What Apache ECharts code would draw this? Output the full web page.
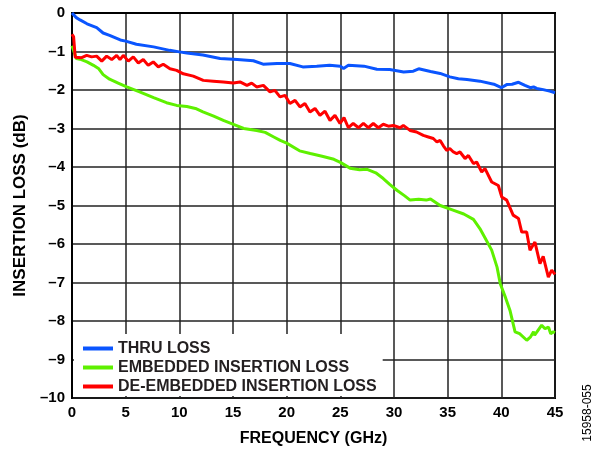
<!DOCTYPE html>
<html>
<head>
<meta charset="utf-8">
<script src="https://cdn.jsdelivr.net/npm/echarts@6/dist/echarts.min.js"></script>
<style>
html,body{margin:0;padding:0;background:#fff;}
#chart{width:592px;height:453px;}
</style>
</head>
<body>
<div id="chart"></div>
<script>
// ---- Data ----
var seriesNames = ['THRU LOSS', 'EMBEDDED INSERTION LOSS', 'DE-EMBEDDED INSERTION LOSS'];

var thruX = [0, 0.4, 0.75, 1.4, 2.3, 2.9, 3.5, 4.5, 5.0, 6.0, 7.6, 9.1, 10.0, 10.7, 12.2, 13.8, 15.4, 16.9, 17.8, 19.1, 20.3, 21.5, 22.8, 24.0, 25.0, 25.3, 25.75, 27.2, 28.4, 29.6, 30.9, 31.8, 32.3, 33.4, 34.3, 35.2, 36.0, 36.8, 38.0, 39.3, 40.0, 40.5, 41.0, 41.6, 42.2, 42.7, 43.0, 43.3, 43.9, 44.5, 45];
var thruY = [0, -0.12, -0.18, -0.28, -0.38, -0.52, -0.58, -0.70, -0.73, -0.81, -0.88, -0.97, -1.01, -1.04, -1.09, -1.18, -1.21, -1.24, -1.33, -1.31, -1.31, -1.40, -1.38, -1.36, -1.38, -1.44, -1.36, -1.38, -1.46, -1.47, -1.53, -1.51, -1.45, -1.52, -1.57, -1.66, -1.71, -1.73, -1.77, -1.85, -1.94, -1.86, -1.85, -1.80, -1.88, -1.94, -1.92, -1.96, -1.99, -2.03, -2.07];

var embX = [0, 0.4, 0.75, 1.4, 2.0, 2.5, 2.9, 3.5, 4.3, 5.1, 6.3, 7.6, 8.8, 9.75, 10.7, 11.5, 12.2, 13.2, 14.1, 15.1, 16.0, 17.2, 18.0, 18.8, 19.4, 20.0, 21.2, 22.2, 23.3, 24.4, 25.0, 25.9, 26.8, 27.5, 28.3, 29.0, 29.6, 30.3, 31.0, 31.5, 32.3, 33.0, 33.4, 34.3, 35.5, 36.5, 37.4, 38.0, 38.5, 39.1, 39.6, 39.9, 40.4, 40.8, 41.28, 41.7, 42.37, 42.7, 43.0, 43.1, 43.4, 43.76, 44.07, 44.4, 44.6, 44.85, 45];
var embY = [-0.85, -1.18, -1.20, -1.27, -1.36, -1.45, -1.60, -1.72, -1.82, -1.92, -2.05, -2.20, -2.33, -2.40, -2.43, -2.48, -2.57, -2.68, -2.79, -2.90, -3.00, -3.05, -3.10, -3.22, -3.31, -3.38, -3.58, -3.65, -3.72, -3.80, -3.88, -4.03, -4.07, -4.06, -4.15, -4.30, -4.45, -4.61, -4.75, -4.86, -4.84, -4.86, -4.83, -5.00, -5.12, -5.22, -5.36, -5.60, -5.85, -6.16, -6.60, -7.03, -7.40, -7.72, -8.28, -8.33, -8.50, -8.42, -8.28, -8.37, -8.25, -8.11, -8.20, -8.16, -8.33, -8.28, -8.30];

var deembX = [0, 0.15, 0.3, 0.43, 0.9, 1.37, 1.83, 2.3, 2.77, 3.23, 3.7, 4.16, 4.47, 4.78, 5.25, 5.71, 6.18, 6.64, 7.1, 7.57, 8.04, 8.5, 9.13, 9.75, 10.37, 11.3, 12.23, 13.17, 14.1, 15.03, 15.65, 16.3, 16.74, 17.2, 17.83, 18.45, 18.9, 19.38, 19.85, 20.3, 20.78, 21.24, 21.7, 22.17, 22.64, 23.1, 23.57, 24.04, 24.5, 24.97, 25.34, 25.75, 26.2, 26.7, 27.15, 27.6, 28.07, 28.54, 29.0, 29.47, 29.94, 30.56, 30.87, 31.49, 32.1, 32.73, 33.2, 33.66, 34.0, 34.3, 34.6, 34.91, 35.2, 35.53, 35.84, 36.15, 36.62, 36.93, 37.4, 37.7, 38.17, 38.48, 39.1, 39.72, 40.04, 40.5, 41.1, 41.6, 41.9, 42.36, 42.67, 43.13, 43.6, 43.9, 44.38, 44.69, 45];
var deembY = [-0.55, -0.62, -1.15, -1.14, -1.16, -1.10, -1.14, -1.12, -1.25, -1.12, -1.21, -1.10, -1.21, -1.10, -1.25, -1.14, -1.30, -1.21, -1.36, -1.27, -1.40, -1.33, -1.45, -1.49, -1.58, -1.64, -1.75, -1.77, -1.79, -1.82, -1.79, -1.88, -1.82, -1.92, -1.88, -2.05, -2.01, -2.18, -2.14, -2.35, -2.27, -2.44, -2.35, -2.57, -2.48, -2.66, -2.55, -2.79, -2.66, -2.87, -2.72, -2.98, -2.87, -2.98, -2.87, -2.98, -2.87, -2.98, -2.89, -2.94, -2.92, -2.98, -2.92, -3.05, -3.09, -3.18, -3.22, -3.26, -3.35, -3.31, -3.45, -3.57, -3.52, -3.61, -3.65, -3.61, -3.78, -3.70, -3.91, -3.87, -4.13, -4.04, -4.39, -4.48, -4.78, -4.86, -5.25, -5.34, -5.69, -5.69, -6.16, -5.95, -6.51, -6.32, -6.86, -6.68, -6.79];

var xTicks = [0, 5, 10, 15, 20, 25, 30, 35, 40, 45];
var yTicks = [0, -1, -2, -3, -4, -5, -6, -7, -8, -9, -10];
var xTitle = 'FREQUENCY (GHz)';
var yTitle = 'INSERTION LOSS (dB)';
var figId = '15958-055';
var colors = ['#0a55ff', '#5ef000', '#ff0000'];

function pairs(xs, ys) { return xs.map(function (x, i) { return [x, ys[i]]; }); }
var FONT = '"Liberation Sans", Arial, Helvetica, sans-serif';

var chart = echarts.init(document.getElementById('chart'), null, { renderer: 'canvas' });
var lineData = [pairs(thruX, thruY), pairs(embX, embY), pairs(deembX, deembY)];

chart.setOption({
  animation: false,
  backgroundColor: '#fff',
  grid: { left: 72, top: 13, width: 483, height: 385, show: true, borderColor: '#000', borderWidth: 2, backgroundColor: 'transparent' },
  xAxis: {
    type: 'value', min: xTicks[0], max: xTicks[xTicks.length - 1], interval: 5,
    name: xTitle, nameLocation: 'middle', nameGap: 33,
    nameTextStyle: { fontFamily: FONT, fontWeight: 'bold', fontSize: 16, color: '#000' },
    axisLine: { show: true, lineStyle: { color: '#000', width: 2 } },
    axisTick: { show: false },
    axisLabel: { margin: 7, fontFamily: FONT, fontWeight: 'bold', fontSize: 15, color: '#000' },
    splitLine: { show: true, lineStyle: { color: '#222', width: 1.5 } }
  },
  yAxis: {
    type: 'value', min: yTicks[yTicks.length - 1], max: yTicks[0], interval: 1,
    name: yTitle, nameLocation: 'middle', nameGap: 43, nameRotate: 90,
    nameTextStyle: { fontFamily: FONT, fontWeight: 'bold', fontSize: 17, color: '#000' },
    axisLine: { show: true, lineStyle: { color: '#000', width: 2 } },
    axisTick: { show: false },
    axisLabel: {
      margin: 7, fontFamily: FONT, fontWeight: 'bold', fontSize: 15, color: '#000',
      formatter: function (v) { return v < 0 ? '\u2013' + Math.abs(v) : String(v); }
    },
    splitLine: { show: true, lineStyle: { color: '#222', width: 1.5 } }
  },
  legend: {
    orient: 'vertical', left: 74, top: 334,
    padding: [5, 6, 0, 9], itemGap: 0, itemWidth: 30, itemHeight: 4,
    backgroundColor: '#fff',
    icon: 'rect',
    data: seriesNames,
    textStyle: { fontFamily: FONT, fontWeight: 'bold', fontSize: 16, color: '#231f20', lineHeight: 19 }
  },
  graphic: [{
    type: 'text', x: 588, y: 413, rotation: Math.PI / 2,
    style: { text: figId, fontFamily: FONT, fontSize: 12, fill: '#000', align: 'center', verticalAlign: 'middle' }
  }],
  series: seriesNames.map(function (n, i) {
    return {
      name: n, type: 'line', data: lineData[i], showSymbol: false, symbol: 'none',
      lineStyle: { color: colors[i], width: 3 }, itemStyle: { color: colors[i] }, z: 3 + (i === 0 ? 2 : i === 2 ? 1 : 0)
    };
  })
});
</script>
</body>
</html>
